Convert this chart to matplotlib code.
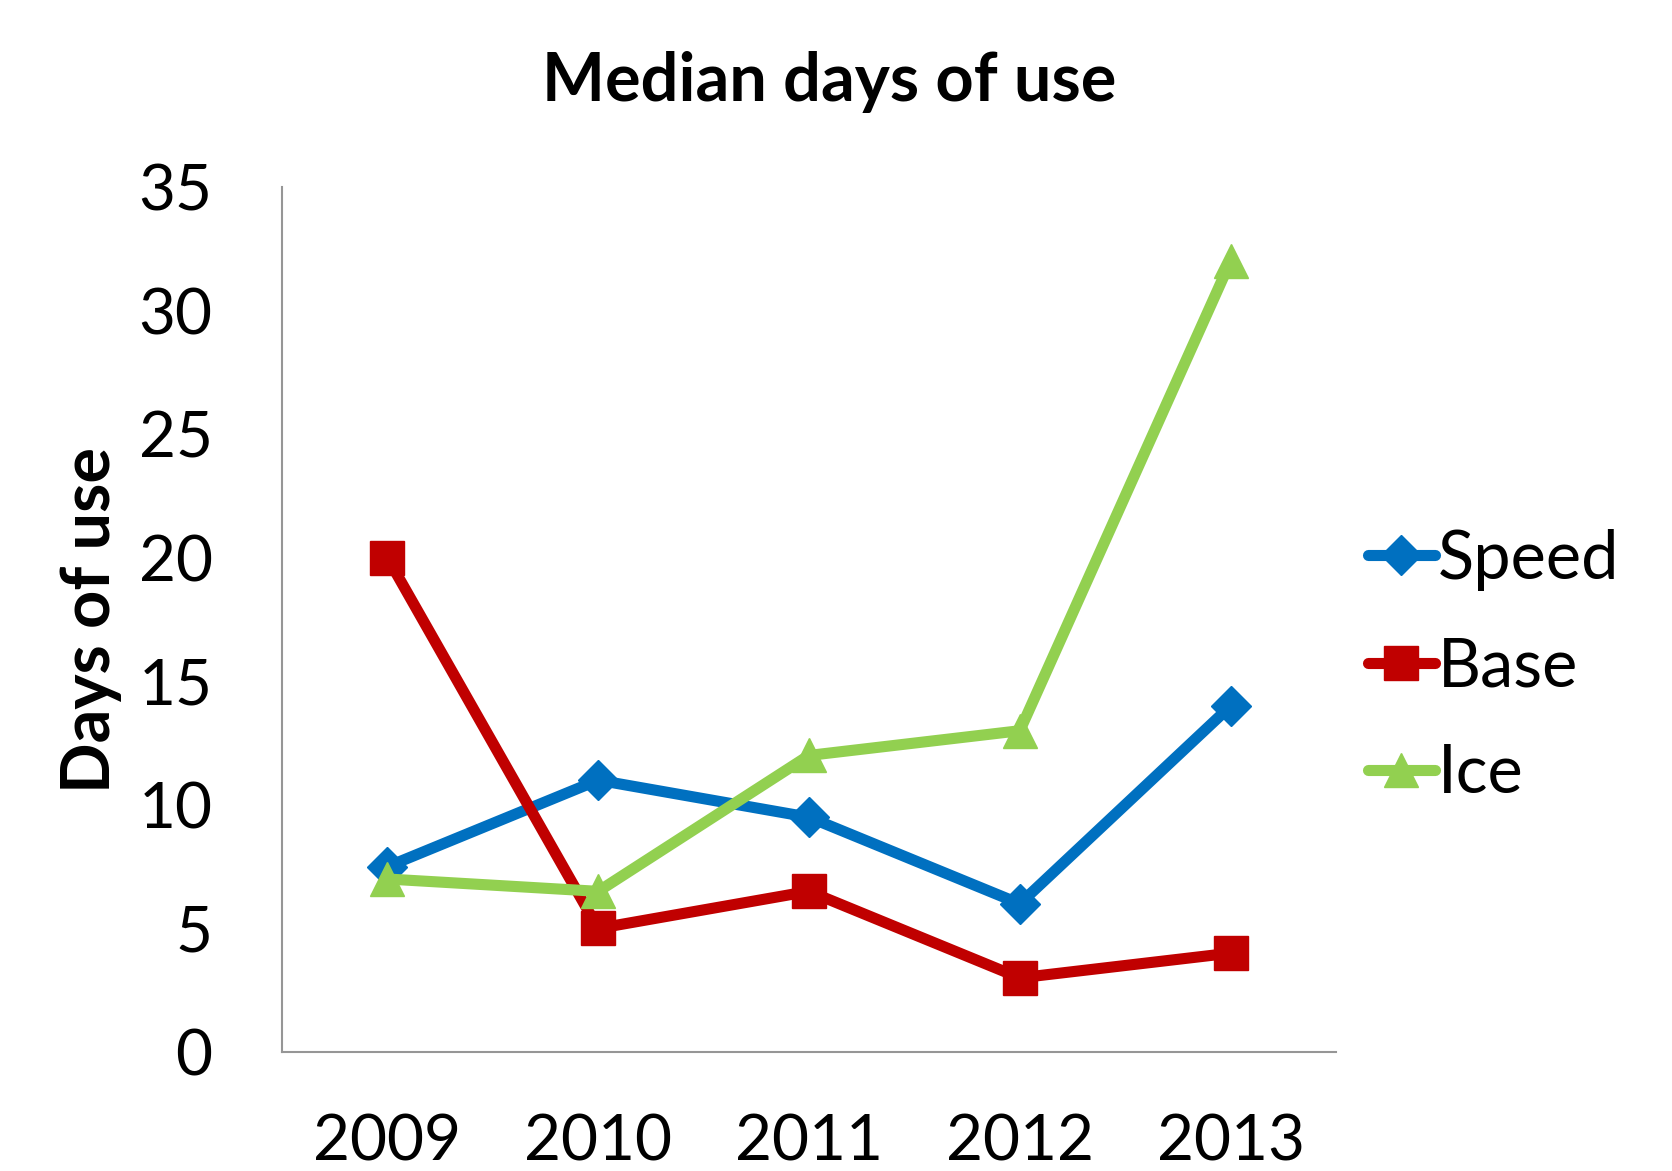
import matplotlib
matplotlib.use("Agg")
import matplotlib.pyplot as plt

years = ["2009", "2010", "2011", "2012", "2013"]
speed = [7.5, 11, 9.5, 6, 14]
base = [20, 5, 6.5, 3, 4]
ice = [7, 6.5, 12, 13, 32]
yticks = [0, 5, 10, 15, 20, 25, 30, 35]

plt.rcParams['font.family'] = ['Lato', 'DejaVu Sans']

fig = plt.figure(figsize=(16.72, 11.71), dpi=100)
ax = fig.add_axes([282/1672, 1 - 1052/1171, (1336-282)/1672, (1052-187)/1171])

x = list(range(len(years)))
ax.plot(x, speed, color='#0070C0', lw=8, marker='D', ms=20, label='Speed', solid_capstyle='round')
ax.plot(x, base, color='#C00000', lw=8, marker='s', ms=25, label='Base', solid_capstyle='round')
ax.plot(x, ice, color='#92D050', lw=8, marker='^', ms=24, label='Ice', solid_capstyle='round')

ax.set_xlim(-0.5, 4.5)
ax.set_ylim(0, 35)
ax.set_xticks(x)
ax.set_xticklabels(years)
ax.set_yticks(yticks)
ax.tick_params(axis='both', length=0, labelsize=46)
ax.tick_params(axis='y', pad=50)
ax.tick_params(axis='x', pad=44)
for s in ['top', 'right']:
    ax.spines[s].set_visible(False)
for s in ['left', 'bottom']:
    ax.spines[s].set_color('#969696')
    ax.spines[s].set_linewidth(1.5)

fig.text(829/1672, 1 - 82/1171, 'Median days of use', ha='center', va='center',
         fontsize=48, fontweight='bold')
fig.text(91/1672, 1 - 620/1171, 'Days of use', ha='center', va='center',
         rotation=90, fontsize=48, fontweight='bold')

leg = fig.legend(loc='center left', bbox_to_anchor=(1368/1672, 1 - 667/1171),
                 frameon=False, fontsize=48, handlelength=1.0, handletextpad=0.05,
                 labelspacing=0.68, borderpad=0, borderaxespad=0)

fig.savefig('out.png', dpi=100)
